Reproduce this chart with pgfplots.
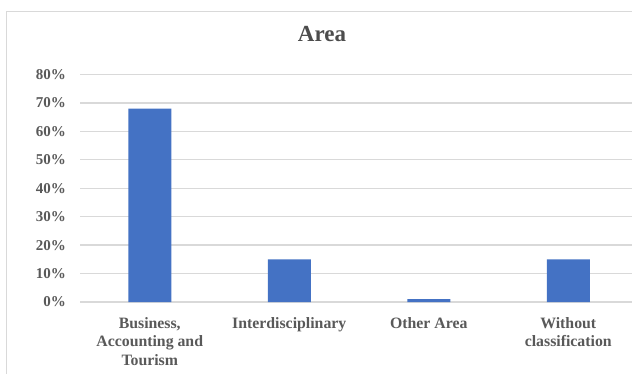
\documentclass[border=0pt]{standalone}
\usepackage{pgfplots}
\pgfplotsset{compat=1.18}
\usepackage{fontspec}
\setmainfont{Liberation Serif}

\definecolor{barblue}{HTML}{4472C4}
\definecolor{gridgray}{HTML}{D9D9D9}
\definecolor{framegray}{HTML}{D9D9D9}
\definecolor{textgray}{HTML}{595959}

\begin{document}
\begin{tikzpicture}
  % page area and clipping of the chart frame
  \useasboundingbox (0pt,0pt) rectangle (632pt,-374pt);
  \clip (0pt,0pt) rectangle (632pt,-374pt);
  \fill[white] (0pt,0pt) rectangle (632pt,-374pt);
  % chart area border
  \draw[framegray, line width=1.3pt] (6.5pt,-700pt) |- (900pt,-11.5pt);

  \begin{axis}[
    at={(80pt,-302pt)}, anchor=south west,
    scale only axis,
    width=558pt, height=227.5pt,
    xmin=-0.5, xmax=3.5,
    ymin=0, ymax=80,
    ybar, bar width=43pt,
    axis line style={draw=none},
    major tick length=0pt,
    ymajorgrids,
    grid style={gridgray, line width=1.3pt},
    xtick={0,1,2,3},
    xticklabels={{Business,\\Accounting and\\Tourism},Interdisciplinary,Other Area,{Without\\classification}},
    ytick={0,10,...,80},
    yticklabels={0\%,10\%,20\%,30\%,40\%,50\%,60\%,70\%,80\%},
    xticklabel style={anchor=north, inner sep=0pt, yshift=-15pt, align=center,
      font=\fontsize{15.8}{18.5}\selectfont\bfseries, text=textgray},
    yticklabel style={anchor=east, inner sep=0pt, xshift=-14pt,
      font=\fontsize{15}{17}\selectfont\bfseries, text=textgray},
    title={Area},
    title style={at={(axis description cs:0.4337,1)}, anchor=base, yshift=27.5pt,
      inner sep=0pt, font=\fontsize{23}{28}\selectfont\bfseries, text=textgray!85!black},
  ]
    \addplot[fill=barblue, draw=none] coordinates {(0,68) (1,15) (2,1) (3,15)};
  \end{axis}
\end{tikzpicture}
\end{document}
